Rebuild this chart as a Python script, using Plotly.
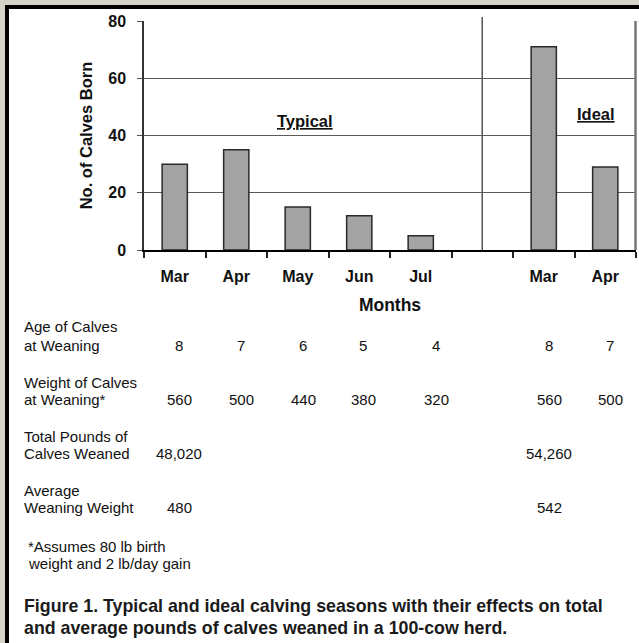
import plotly.graph_objects as go

# ---------------- data ----------------
months = ["Mar", "Apr", "May", "Jun", "Jul", "", "Mar", "Apr"]
calves_born = [30, 35, 15, 12, 5, None, 71, 29]
y_tick_values = [0, 20, 40, 60, 80]
y_tick_labels = ["0", "20", "40", "60", "80"]

age_at_weaning = ["8", "7", "6", "5", "4", "", "8", "7"]
weight_at_weaning = ["560", "500", "440", "380", "320", "", "560", "500"]
total_pounds = ["48,020", "", "", "", "", "", "54,260", ""]
average_weight = ["480", "", "", "", "", "", "542", ""]

row_labels = [
    ["Age of Calves", "at Weaning"],
    ["Weight of Calves", "at Weaning*"],
    ["Total Pounds of", "Calves Weaned"],
    ["Average", "Weaning Weight"],
]
footnote = ["*Assumes 80 lb birth", "weight and 2 lb/day gain"]
caption = [
    "Figure 1. Typical and ideal calving seasons with their effects on total",
    "and average pounds of calves weaned in a 100-cow herd.",
]

# ---------------- layout geometry (pixels) ----------------
W, H = 639, 643
L, R, T, B = 144, 3, 21, 393
PW, PH = W - L - R, H - T - B


def px(x):
    return (x - L) / PW


def py(y):
    return (H - B - y) / PH


FONT = "Liberation Sans, Arial, sans-serif"
col_px = [179, 241, 303, 363, 436, None, 549, 610]
row_label_px = [(326, 345), (382, 399), (436, 454), (491, 508)]
rows = [age_at_weaning, weight_at_weaning, total_pounds, average_weight]

x_idx = list(range(len(months)))

fig = go.Figure()
fig.add_trace(go.Bar(
    x=x_idx, y=calves_born, width=0.41,
    marker=dict(color="#a3a3a3", line=dict(color="#2a2a2a", width=1.5)),
    hoverinfo="skip",
))

annotations = []
# chart labels
annotations.append(dict(x=2.12, y=45, xref="x", yref="y", text="<b><u>Typical</u></b>",
                        showarrow=False, font=dict(family=FONT, size=16.5, color="#111")))
annotations.append(dict(x=6.85, y=47.5, xref="x", yref="y", text="<b><u>Ideal</u></b>",
                        showarrow=False, font=dict(family=FONT, size=16.5, color="#111")))

# table
for (y1, y2), lab, vals in zip(row_label_px, row_labels, rows):
    for yy, line in zip((y1, y2), lab):
        annotations.append(dict(x=px(22), y=py(yy), xref="paper", yref="paper", text=line,
                                xanchor="left", yanchor="middle", showarrow=False,
                                font=dict(family=FONT, size=15, color="#111")))
    for cx, v in zip(col_px, vals):
        if cx is None or v == "":
            continue
        annotations.append(dict(x=px(cx), y=py(y2), xref="paper", yref="paper", text=v,
                                xanchor="center", yanchor="middle", showarrow=False,
                                font=dict(family=FONT, size=15, color="#111")))

for yy, line in zip((546, 563), footnote):
    annotations.append(dict(x=px(26), y=py(yy), xref="paper", yref="paper", text=line,
                            xanchor="left", yanchor="middle", showarrow=False,
                            font=dict(family=FONT, size=15, color="#111")))
for yy, line in zip((606, 628), caption):
    annotations.append(dict(x=px(22), y=py(yy), xref="paper", yref="paper", text="<b>" + line + "</b>",
                            xanchor="left", yanchor="middle", showarrow=False,
                            font=dict(family=FONT, size=17.8, color="#1a1a1a")))

shapes = [
    # white panel with heavy black frame
    dict(type="rect", xref="paper", yref="paper", x0=px(7), x1=px(700), y0=py(700), y1=py(7),
         fillcolor="white", line=dict(color="#000", width=4), layer="below"),
    # divider between typical and ideal
    dict(type="line", xref="x", yref="paper", x0=5, x1=5, y0=0, y1=py(17),
         line=dict(color="#555", width=1.5)),
    # right plot border
    dict(type="line", xref="paper", yref="paper", x0=px(635.5), x1=px(635.5), y0=0, y1=1,
         line=dict(color="#777", width=2.5)),
]

fig.update_layout(
    width=W, height=H,
    margin=dict(l=L, r=R, t=T, b=B, autoexpand=False),
    paper_bgcolor="#d6d4c9",
    plot_bgcolor="white",
    showlegend=False,
    bargap=0.59,
    annotations=annotations,
    shapes=shapes,
    font=dict(family=FONT, color="#111"),
)
fig.update_xaxes(
    range=[-0.5, 7.5], tickmode="array", tickvals=x_idx, ticktext=months,
    ticks="", showgrid=False, zeroline=False,
    showline=True, linecolor="#000", linewidth=2,
    tickfont=dict(family=FONT, size=16, weight="bold", color="#111"),
    ticklabelstandoff=11,
    minor=dict(ticks="outside", tick0=-0.5, dtick=1, ticklen=6, tickwidth=1.5, tickcolor="#222", showgrid=False),
    title=dict(text="<b>Months</b>", font=dict(family=FONT, size=17.5, color="#111"), standoff=15),
)
fig.update_yaxes(
    range=[0, 80], tickmode="array", tickvals=y_tick_values, ticktext=y_tick_labels,
    ticks="outside", ticklen=5, tickwidth=1.2, tickcolor="#555",
    showgrid=True, gridcolor="#5a5a5a", gridwidth=1.2, zeroline=False,
    showline=True, linecolor="#333", linewidth=1.5,
    tickfont=dict(family=FONT, size=16, weight="bold", color="#111"),
    ticklabelstandoff=8,
    title=dict(text="<b>No. of Calves Born</b>", font=dict(family=FONT, size=16.5, color="#111"), standoff=11),
)

fig.write_html(
    "out.html",
    config={"displayModeBar": False},
    post_script="document.body.style.margin='0';document.body.style.overflow='hidden';",
)
